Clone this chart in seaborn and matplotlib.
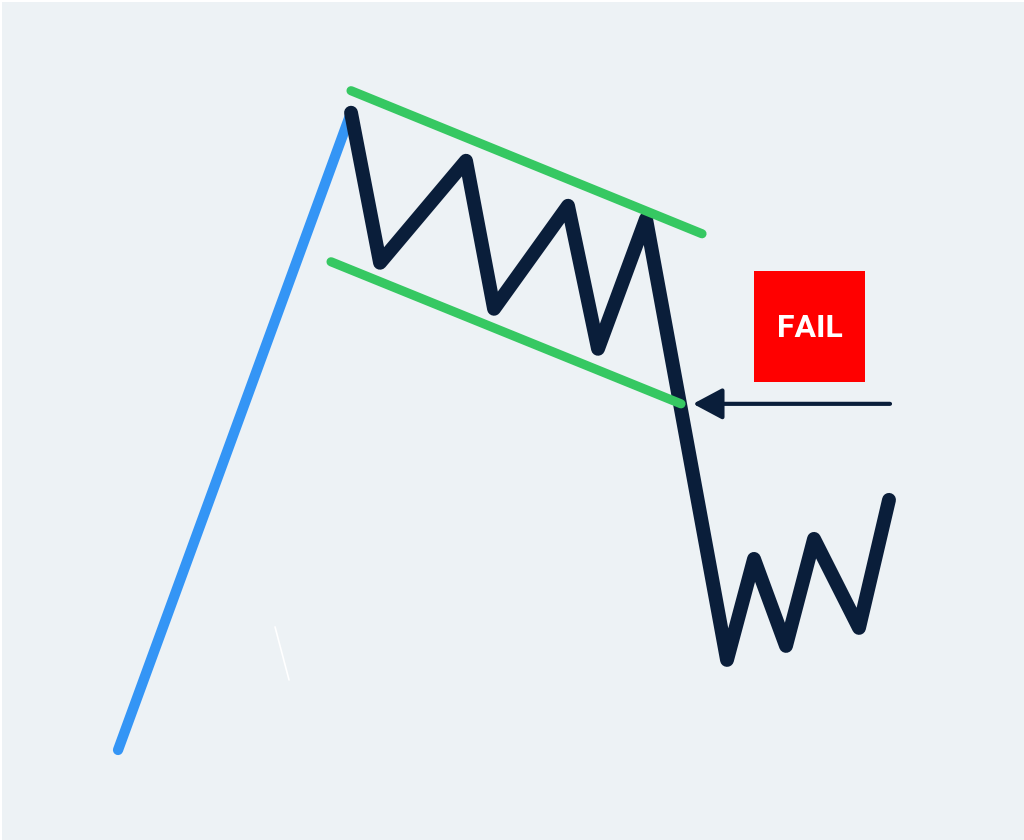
import numpy as np
import pandas as pd
import matplotlib
matplotlib.use('Agg')
import matplotlib.pyplot as plt
import matplotlib.patches as mpatches
import seaborn as sns

sns.set_theme(style='white')

# pixel-space coordinates (y grows downward)
pole_x = [118, 351]
pole_y = [750, 113]

price_x = [351, 380, 466, 494, 568, 598, 646, 727, 754, 786, 814, 859, 889]
price_y = [113, 263, 161, 309, 206, 349, 219, 660, 559, 646, 539, 628, 500]

upper_x = [351, 702]
upper_y = [91, 234]
lower_x = [331, 681]
lower_y = [262, 404]

arrow_from = (890, 404)
arrow_to = (693, 404)

fail_box = (754, 271, 111, 111)
fail_label = 'FAIL'

bg = '#edf2f5'
navy = '#0a1e3a'

fig = plt.figure(figsize=(10.24, 8.4), dpi=100)
fig.patch.set_facecolor('white')
ax = fig.add_axes([0.002, 0.0, 0.998, 0.998])
ax.set_facecolor(bg)
ax.set_xlim(2, 1024)
ax.set_ylim(840, 2)
ax.axis('off')
ax.add_patch(mpatches.Rectangle((2, 2), 1022, 838, facecolor=bg, edgecolor='none', zorder=0))

def seg(x, y, color, lw, z):
    d = pd.DataFrame({'x': x, 'y': y})
    sns.lineplot(data=d, x='x', y='y', sort=False, estimator=None, color=color,
                 linewidth=lw, ax=ax, zorder=z)
    ax.lines[-1].set_solid_capstyle('round')
    ax.lines[-1].set_solid_joinstyle('round')

seg(pole_x, pole_y, '#3495f5', 7.4, 2)
seg(price_x, price_y, navy, 10, 3)
# flag channel sits on top of the price line
seg(upper_x, upper_y, '#36c862', 6.6, 4)
seg(lower_x, lower_y, '#36c862', 6.6, 4)

# faint white stroke
seg([275, 289], [627, 680], 'white', 1.2, 1)

ax.annotate('', xy=arrow_to, xytext=arrow_from,
            arrowprops=dict(arrowstyle='-|>,head_length=1.5,head_width=0.8',
                            color=navy, lw=3, shrinkA=0, shrinkB=0), zorder=4)

bx, by, bw, bh = fail_box
ax.add_patch(mpatches.Rectangle((bx, by), bw, bh, facecolor='#ff0000', edgecolor='none', zorder=4))
ax.text(bx + bw / 2, by + bh / 2 + 2, fail_label, color='white', fontsize=23, fontweight='bold',
        family='Roboto', ha='center', va='center', zorder=5)

fig.savefig('out.png', dpi=100, facecolor='white')
